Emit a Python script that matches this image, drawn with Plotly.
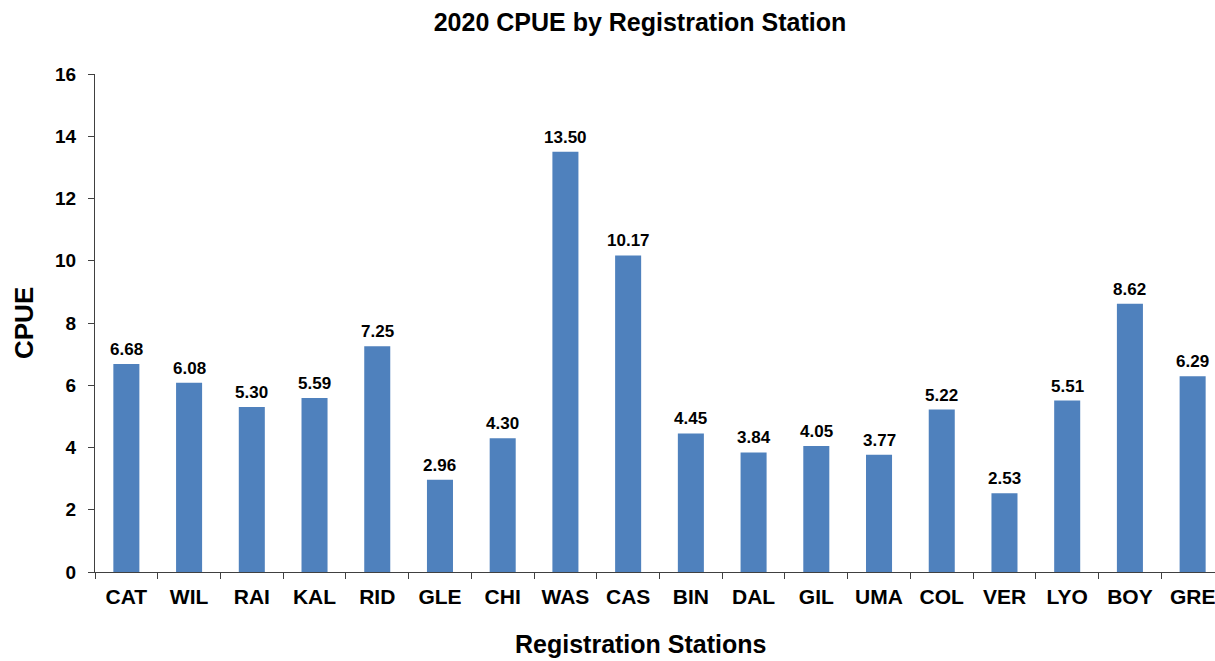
import plotly.graph_objects as go

stations = ["CAT", "WIL", "RAI", "KAL", "RID", "GLE", "CHI", "WAS", "CAS", "BIN",
            "DAL", "GIL", "UMA", "COL", "VER", "LYO", "BOY", "GRE"]
cpue = [6.68, 6.08, 5.30, 5.59, 7.25, 2.96, 4.30, 13.50, 10.17, 4.45,
        3.84, 4.05, 3.77, 5.22, 2.53, 5.51, 8.62, 6.29]

W, H = 1224, 661
ML, MR, MT, MB = 95, 0, 74, 89
FONT = "Liberation Sans, Arial, sans-serif"
AXC = "#404040"

fig = go.Figure()
fig.add_trace(go.Bar(x=stations, y=cpue, marker=dict(color="#4F81BD", line=dict(width=0)),
                     hoverinfo="x+y"))

annotations = []
for s, v in zip(stations, cpue):
    annotations.append(dict(x=s, y=v, xref="x", yref="y", text=f"<b>{v:.2f}</b>",
                            showarrow=False, yanchor="bottom", yshift=3,
                            font=dict(family=FONT, size=17, color="black")))
annotations.append(dict(x=0, y=0.5, xref="paper", yref="paper", xshift=-71,
                        text="<b>CPUE</b>", textangle=-90, showarrow=False,
                        xanchor="center", yanchor="middle",
                        font=dict(family=FONT, size=26, color="black")))
annotations.append(dict(x=(640 - ML) / (W - ML - MR), y=0, xref="paper", yref="paper",
                        yshift=-(MB - 1), text="<b>Registration Stations</b>", showarrow=False,
                        xanchor="center", yanchor="bottom",
                        font=dict(family=FONT, size=25, color="black")))

fig.update_layout(
    width=W, height=H,
    margin=dict(l=ML, r=MR, t=MT, b=MB, pad=0),
    paper_bgcolor="white", plot_bgcolor="white",
    bargap=0.585,
    showlegend=False,
    title=dict(text="<b>2020 CPUE by Registration Station</b>", x=640 / W, xref="container",
               xanchor="center", y=1 - 22 / H, yref="container", yanchor="middle",
               font=dict(family=FONT, size=25, color="black")),
    annotations=annotations,
    font=dict(family=FONT, color="black"),
)
fig.update_xaxes(showline=True, linecolor=AXC, linewidth=1, ticks="outside", ticklen=6,
                 tickcolor=AXC, tickson="boundaries", showgrid=False,
                 tickfont=dict(family=FONT, size=21, color="black", weight="bold"),
                 ticklabelstandoff=6)
fig.update_yaxes(range=[0, 16], dtick=2, showline=True, linecolor=AXC, linewidth=1,
                 ticks="outside", ticklen=6, tickcolor=AXC, showgrid=False, zeroline=False,
                 tickfont=dict(family=FONT, size=19, color="black", weight="bold"),
                 ticklabelstandoff=8)

fig.write_html("out.html", config={"displayModeBar": False},
               post_script="document.body.style.margin='0';document.body.style.overflow='hidden';")
